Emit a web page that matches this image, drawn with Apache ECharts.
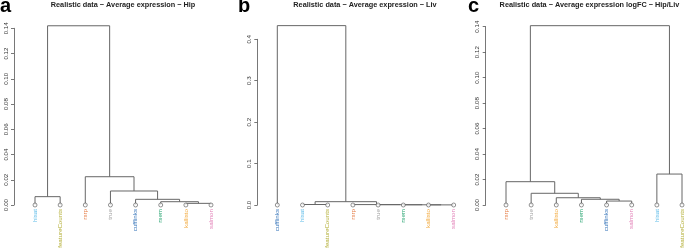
<!DOCTYPE html>
<html>
<head>
<meta charset="utf-8">
<script src="https://cdn.jsdelivr.net/npm/echarts@6/dist/echarts.min.js"></script>
<style>
  html, body { margin: 0; padding: 0; background: #fff; }
  #main { width: 685px; height: 249px; }
</style>
</head>
<body>
<div id="main"></div>
<script>
// leaf order (left to right) of each dendrogram
const leavesHip = ['hisat', 'featureCounts', 'rsrp', 'true', 'cufflinks', 'rsem', 'kallisto', 'salmon'];
const leavesLiv = ['cufflinks', 'hisat', 'featureCounts', 'rsrp', 'true', 'rsem', 'kallisto', 'salmon'];
const leavesFC = ['rsrp', 'true', 'kallisto', 'rsem', 'cufflinks', 'salmon', 'hisat', 'featureCounts'];

// merges: a leaf name or the number of an earlier merge (1-based)
const mergesHip = [['kallisto', 'salmon'], ['rsem', 1], ['cufflinks', 2], ['hisat', 'featureCounts'], ['true', 3], ['rsrp', 5], [4, 6]];
const heightsHip = [0.0013, 0.0026, 0.0045, 0.0066, 0.0111, 0.0224, 0.142];

const mergesLiv = [['kallisto', 'salmon'], ['rsem', 1], ['true', 2], ['rsrp', 3], ['hisat', 'featureCounts'], [5, 4], ['cufflinks', 6]];
const heightsLiv = [0.0003, 0.0005, 0.0007, 0.001, 0.0012, 0.008, 0.433];

const mergesFC = [['cufflinks', 'salmon'], ['rsem', 1], ['kallisto', 2], ['true', 3], ['rsrp', 4], ['hisat', 'featureCounts'], [5, 6]];
const heightsFC = [0.0031, 0.0045, 0.0057, 0.0092, 0.0183, 0.0243, 0.1408];

const titles = [
  'Realistic data \u2212 Average expression \u2212 Hip',
  'Realistic data \u2212 Average expression \u2212 Liv',
  'Realistic data \u2212 Average expression logFC \u2212 Hip/Liv'
];
const panelLetters = ['a', 'b', 'c'];

const methodColors = {
  hisat: '#62bde9', featureCounts: '#b3ae35', rsrp: '#e6814c', true: '#a3a3a3',
  cufflinks: '#3171b8', rsem: '#27a470', kallisto: '#f2a83a', salmon: '#e17db5'
};

// build U-shaped segments of a dendrogram
function dendroSegments(leaves, merges, heights) {
  const nodes = [];
  const pos = (ref) => typeof ref === 'string'
    ? { x: leaves.indexOf(ref) + 1, h: 0 }
    : nodes[ref - 1];
  const segs = [];
  merges.forEach((m, i) => {
    const a = pos(m[0]), b = pos(m[1]), h = heights[i];
    const l = a.x < b.x ? a : b, r = a.x < b.x ? b : a;
    segs.push({ coords: [[l.x, l.h], [l.x, h], [r.x, h], [r.x, r.h]] });
    nodes.push({ x: (a.x + b.x) / 2, h: h });
  });
  return segs;
}

const panels = [
  { leaves: leavesHip, merges: mergesHip, heights: heightsHip, max: 0.14, step: 0.02, dec: 2,
    grid: { left: 9.86, top: 28.3, width: 226.3, height: 176.7 }, yOffset: -4.14, titleX: 123, letterX: 0 },
  { leaves: leavesLiv, merges: mergesLiv, heights: heightsLiv, max: 0.4, step: 0.1, dec: 1,
    grid: { left: 252.1, top: 39.3, width: 226.8, height: 165.7 }, yOffset: -5.2, titleX: 365, letterX: 238 },
  { leaves: leavesFC, merges: mergesFC, heights: heightsFC, max: 0.14, step: 0.02, dec: 2,
    grid: { left: 480.86, top: 26.7, width: 226.3, height: 178.3 }, yOffset: -4.84, titleX: 589.5, letterX: 468 }
];

const chart = echarts.init(document.getElementById('main'), null, { renderer: 'canvas' });

const option = {
  animation: false,
  textStyle: { fontFamily: 'Liberation Sans, Arial, sans-serif' },
  title: [],
  grid: [], xAxis: [], yAxis: [], series: []
};

panels.forEach((p, k) => {
  option.title.push({
    text: titles[k], left: p.titleX, top: 1, textAlign: 'center', padding: 0,
    textStyle: { fontSize: 7.3, fontWeight: 'bold', color: '#222' }
  });
  option.title.push({
    text: panelLetters[k], left: p.letterX, top: -4, padding: 0,
    textStyle: { fontSize: 20, fontWeight: 'bold', color: '#000' }
  });
  option.grid.push(Object.assign({ outerBoundsMode: 'none', containLabel: false }, p.grid));
  option.xAxis.push({
    type: 'value', gridIndex: k, min: 0, max: 9, interval: 1,
    axisLine: { show: false }, axisTick: { show: false }, splitLine: { show: false },
    axisLabel: {
      rotate: 90, fontSize: 6.2, margin: 4, showMinLabel: true, showMaxLabel: true,
      formatter: (v) => p.leaves[v - 1] || '',
      color: (v) => methodColors[p.leaves[Number(v) - 1]] || '#000'
    }
  });
  option.yAxis.push({
    type: 'value', gridIndex: k, min: 0, max: p.max, interval: p.step, offset: p.yOffset,
    axisLine: { show: true, lineStyle: { color: '#555', width: 0.8 } },
    axisTick: { show: true, length: 3, lineStyle: { color: '#555', width: 0.8 } },
    splitLine: { show: false },
    axisLabel: { rotate: 90, fontSize: 6.2, margin: 5, color: '#333',
      formatter: (v) => v.toFixed(p.dec) }
  });
  option.series.push({
    type: 'lines', coordinateSystem: 'cartesian2d', xAxisIndex: k, yAxisIndex: k,
    polyline: true, clip: false, silent: true,
    lineStyle: { color: '#666', width: 1, opacity: 1 },
    data: dendroSegments(p.leaves, p.merges, p.heights)
  });
  option.series.push({
    type: 'scatter', xAxisIndex: k, yAxisIndex: k, clip: false, silent: true, z: 5,
    symbol: 'circle', symbolSize: 4,
    itemStyle: { color: '#fff', borderColor: '#555', borderWidth: 0.8 },
    data: p.leaves.map((name, i) => [i + 1, 0])
  });
});

chart.setOption(option);
</script>
</body>
</html>
